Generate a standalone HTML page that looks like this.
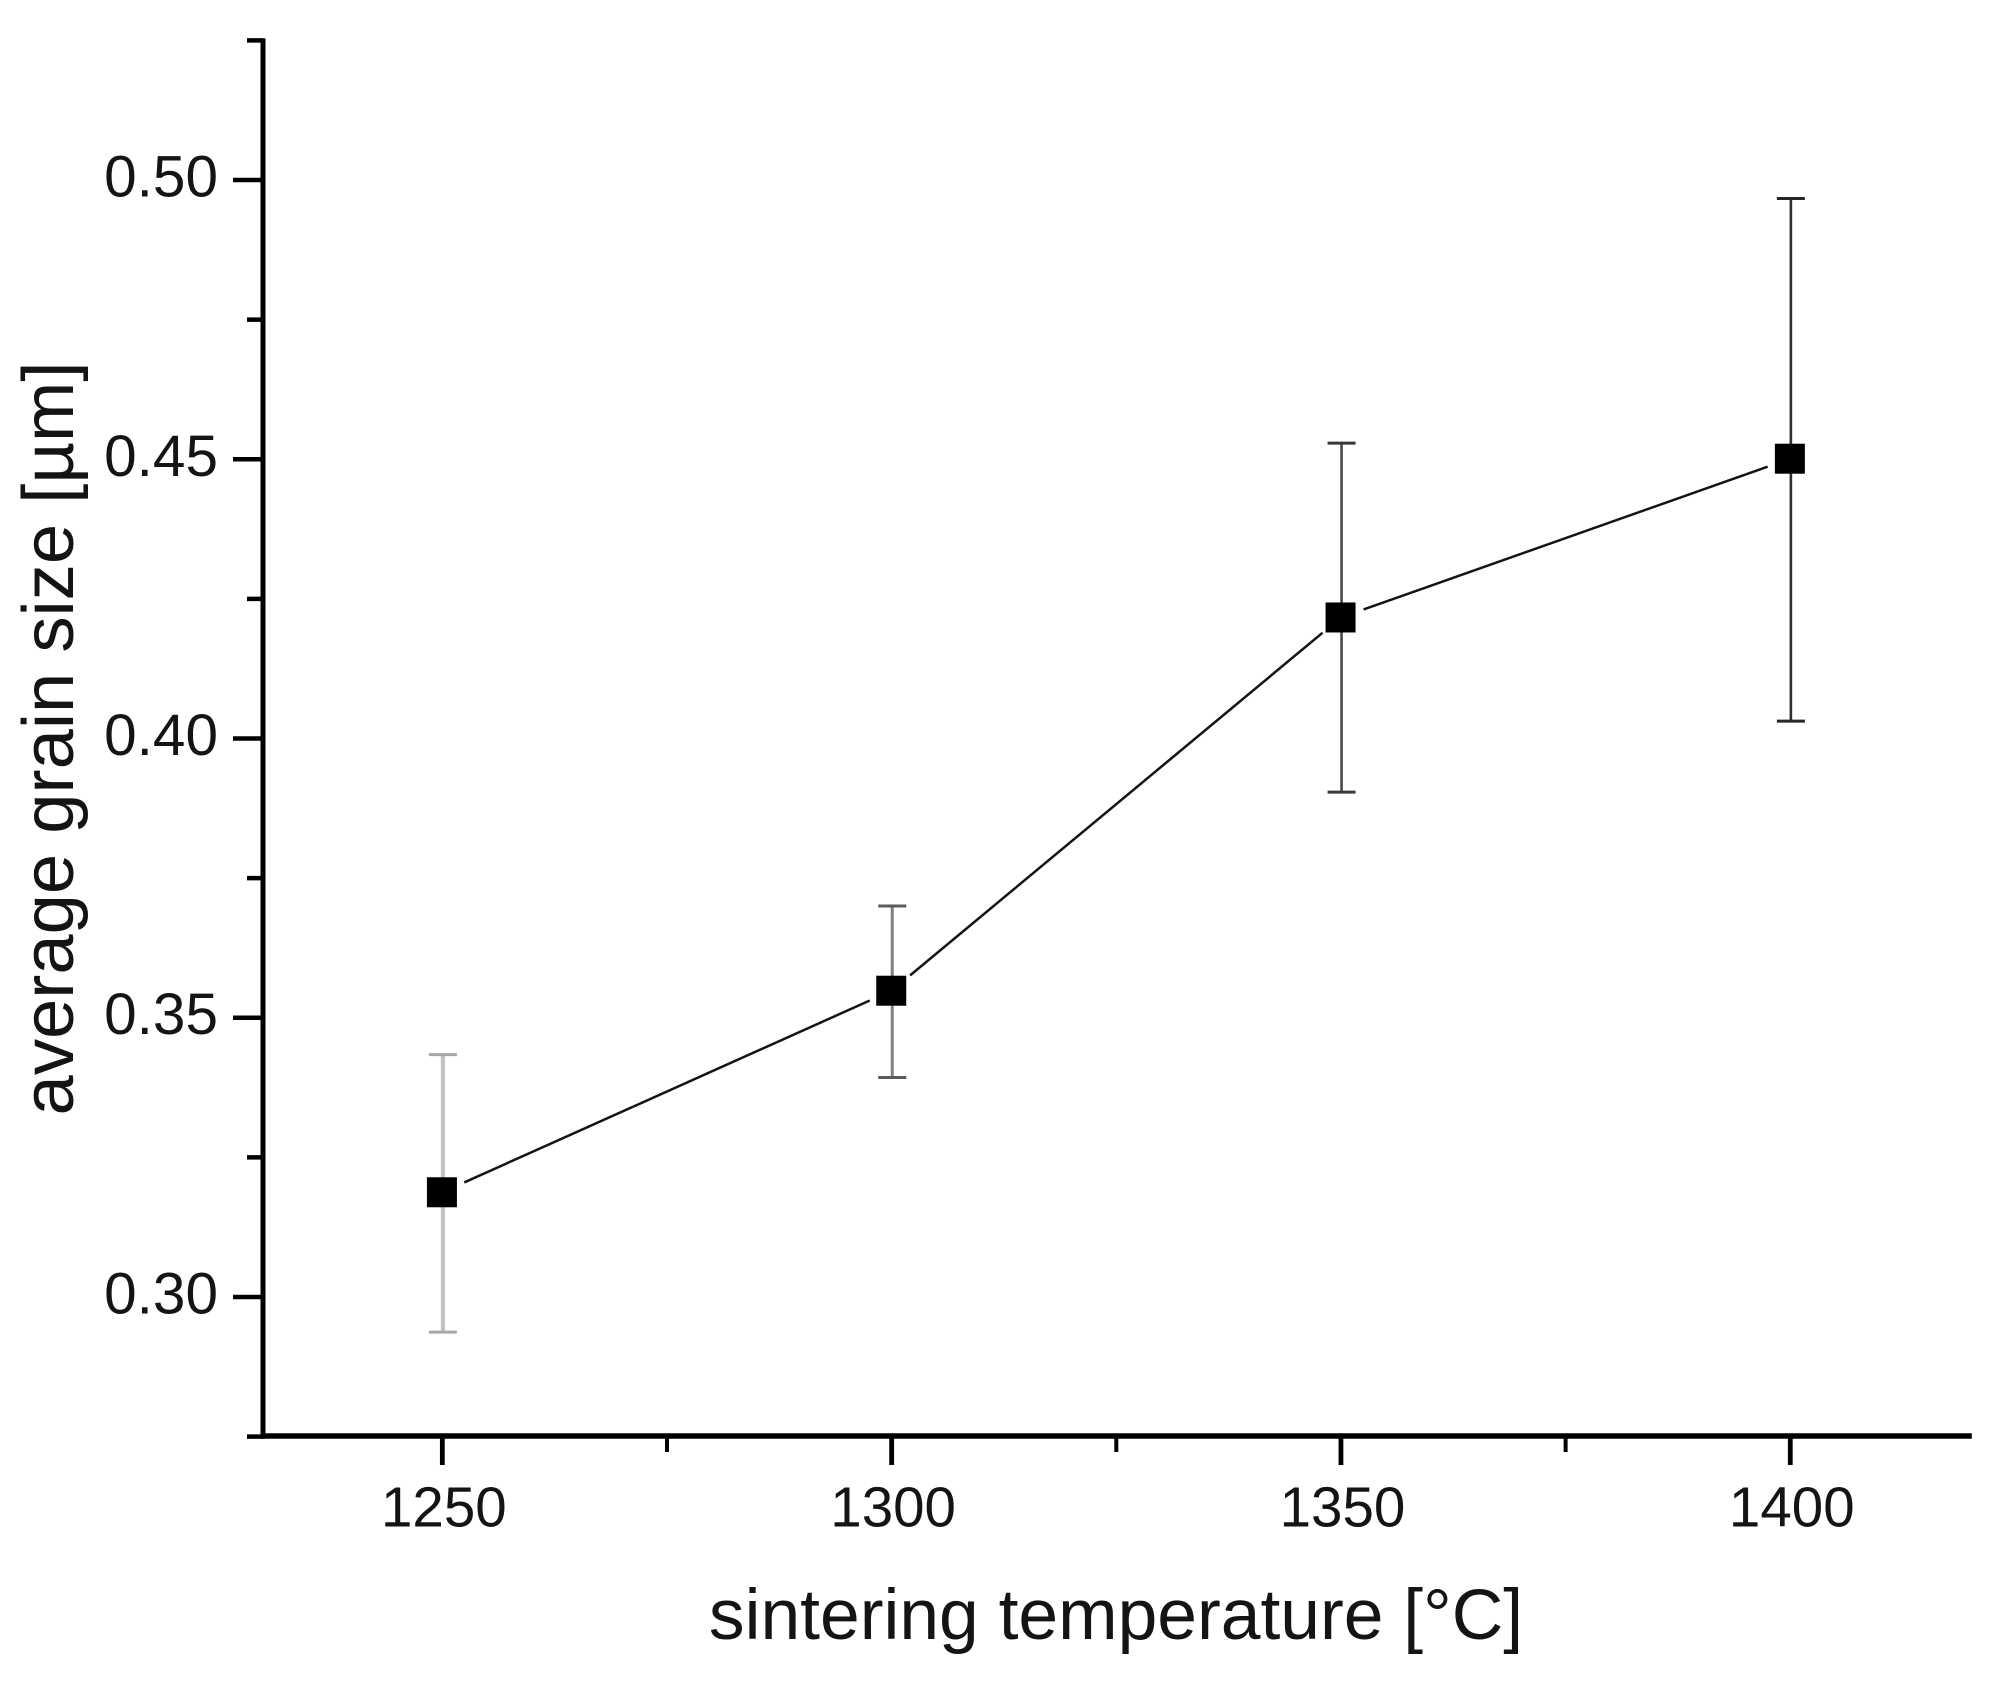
<!DOCTYPE html>
<html lang="en">
<head>
<meta charset="utf-8">
<title>Average grain size vs sintering temperature</title>
<style>
html,body{margin:0;padding:0;background:#fff;width:1997px;height:1684px;overflow:hidden}
svg{display:block}
text{font-family:"Liberation Sans",Arial,sans-serif;fill:#141414}
</style>
</head>
<body>
<svg id="chart" xmlns="http://www.w3.org/2000/svg" width="1997" height="1684" viewBox="0 0 1997 1684">
  <rect x="0" y="0" width="1997" height="1684" fill="#ffffff"/>
  <g id="marks"></g>
  <g id="axes"></g>
  <text x="1116" y="1639" text-anchor="middle" font-size="71.4">sintering temperature [°C]</text>
  <text transform="translate(73,738.5) rotate(-90)" text-anchor="middle" font-size="72.4">average grain size [µm]</text>
</svg>
<script>
const temperatures = [1250, 1300, 1350, 1400];
const grainSize = [0.31875, 0.35484, 0.42167, 0.4501];
const errorHigh = [0.3434, 0.3700, 0.4529, 0.4967];
const errorLow = [0.2937, 0.3393, 0.3904, 0.4031];
const xMajorTicks = [1250, 1300, 1350, 1400];
const xMinorTicks = [1275, 1325, 1375];
const yMajorTicks = [0.30, 0.35, 0.40, 0.45, 0.50];
const yMinorTicks = [0.275, 0.325, 0.375, 0.425, 0.475, 0.525];
const xTickLabels = ['1250', '1300', '1350', '1400'];
const yTickLabels = ['0.30', '0.35', '0.40', '0.45', '0.50'];

const errorColors = ['#c2c2c2', '#808080', '#484848', '#303030'];
const errorWidths = [4.2, 3, 2.6, 2.6];
const capColors = ['#a8a8a8', '#5a5a5a', '#383838', '#262626'];

const xDomain = [1230, 1420.2];
const yDomain = [0.275, 0.525];
const plot = {left: 262.6, right: 1971.8, top: 40.4, bottom: 1436.6};

function xScale(v) {
  return plot.left + (v - xDomain[0]) * (plot.right - plot.left) / (xDomain[1] - xDomain[0]);
}
function yScale(v) {
  return plot.bottom - (v - yDomain[0]) * (plot.bottom - plot.top) / (yDomain[1] - yDomain[0]);
}

const NS = 'http://www.w3.org/2000/svg';
const marks = document.getElementById('marks');
const axes = document.getElementById('axes');

function make(tag, parent, attrs) {
  const el = document.createElementNS(NS, tag);
  for (const k in attrs) el.setAttribute(k, attrs[k]);
  parent.appendChild(el);
  return el;
}

// connecting line segments, stopped short of each marker
const gap = 24;
for (let i = 0; i < temperatures.length - 1; i++) {
  const x1 = xScale(temperatures[i]), y1 = yScale(grainSize[i]);
  const x2 = xScale(temperatures[i + 1]), y2 = yScale(grainSize[i + 1]);
  const len = Math.hypot(x2 - x1, y2 - y1);
  const ux = (x2 - x1) / len, uy = (y2 - y1) / len;
  const seg = make('line', marks, {x1: x1 + ux * gap, y1: y1 + uy * gap, x2: x2 - ux * gap, y2: y2 - uy * gap, stroke: '#141414', 'stroke-width': 2.5});
  
  
}

// error bars and markers
temperatures.forEach(function (t, i) {
  const x = xScale(t) + 0.6, yHi = yScale(errorHigh[i]), yLo = yScale(errorLow[i]), y = yScale(grainSize[i]);
  const g = make('g', marks, {fill: 'none'});
  
  
  make('line', g, {x1: x, x2: x, y1: yHi, y2: yLo, stroke: errorColors[i], 'stroke-width': errorWidths[i]});
  make('line', g, {x1: x - 14, x2: x + 14, y1: yHi, y2: yHi, stroke: capColors[i], 'stroke-width': 3});
  make('line', g, {x1: x - 14, x2: x + 14, y1: yLo, y2: yLo, stroke: capColors[i], 'stroke-width': 3});
  const m = make('rect', marks, {x: x - 16, y: y - 15, width: 30, height: 30, fill: '#000000'});
  
  
});

// axis spines
const ySpine = make('line', axes, {x1: 263, x2: 263, y1: plot.top - 2, y2: plot.bottom + 2, stroke: '#000', 'stroke-width': 5});


const xSpine = make('line', axes, {x1: 261, x2: plot.right, y1: 1436, y2: 1436, stroke: '#000', 'stroke-width': 5.5});



// y ticks
yMajorTicks.forEach(function (v, i) {
  const y = yScale(v);
  const tick = make('line', axes, {x1: 233, x2: 263, y1: y, y2: y, stroke: '#000', 'stroke-width': 4.5});
  
  
  const label = make('text', axes, {x: 218, y: y + 16.5, 'text-anchor': 'end', 'font-size': 58.5});
  label.textContent = yTickLabels[i];
  
  
});
yMinorTicks.forEach(function (v) {
  const y = yScale(v);
  const tick = make('line', axes, {x1: 247, x2: 263, y1: y, y2: y, stroke: '#000', 'stroke-width': 4.5});
  
  
});

// x ticks
xMajorTicks.forEach(function (v, i) {
  const x = xScale(v);
  const tick = make('line', axes, {x1: x, x2: x, y1: 1436, y2: 1465, stroke: '#000', 'stroke-width': 4.8});
  
  
  const label = make('text', axes, {x: x + 1.5, y: 1526.5, 'text-anchor': 'middle', 'font-size': 56.5});
  label.textContent = xTickLabels[i];
  
  
});
xMinorTicks.forEach(function (v) {
  const x = xScale(v);
  const tick = make('line', axes, {x1: x, x2: x, y1: 1436, y2: 1452, stroke: '#000', 'stroke-width': 4});
  
  
});
</script>
</body>
</html>
